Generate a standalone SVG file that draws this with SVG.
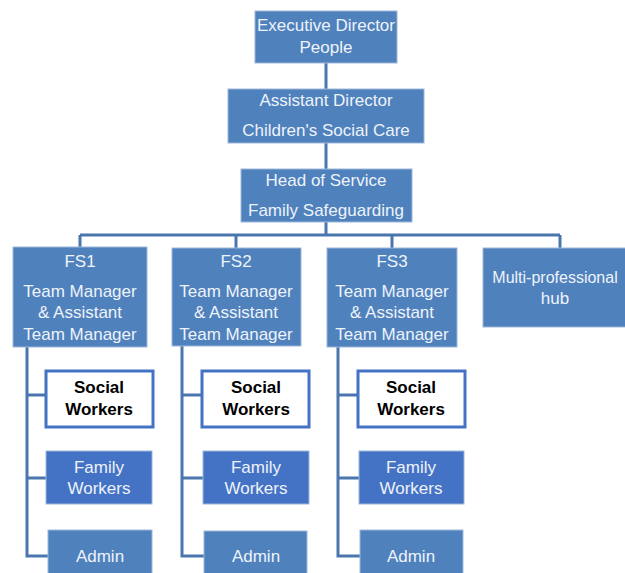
<svg xmlns="http://www.w3.org/2000/svg" width="625" height="573" viewBox="0 0 625 573">
<style>
.box{fill:#4F81BD;stroke:#9DB7DA;stroke-width:1}
.fam{fill:#4472C4;stroke:#9DB7DA;stroke-width:1}
.sw{fill:#FFFFFF;stroke:#4472C4;stroke-width:3}
.t{font-family:"Liberation Sans",Arial,sans-serif;font-size:17px;fill:#EEF3FA;text-anchor:middle}
.b{font-family:"Liberation Sans",Arial,sans-serif;font-size:17px;font-weight:bold;fill:#000000;text-anchor:middle}
.c{fill:none;stroke:#4A76AD;stroke-width:3}
</style>
<rect width="625" height="573" fill="#FFFFFF"/>
<g id="connectors">
<path class="c" d="M326,63V89M326,143V169M326,222V235M80,235H560M80,235V247M236,235V248M392,235V248M560,235V248"/>
<path class="c" d="M27,347V556H48M27,395H46M27,478H46"/>
<path class="c" d="M182,346V556H204M182,395H202M182,478H203"/>
<path class="c" d="M338,347V556H360M338,395H358M338,478H359"/>
</g>
<g id="exec"><rect class="box" x="255" y="11" width="142" height="52"/><text class="t" x="326" y="31">Executive Director</text><text class="t" x="326" y="53">People</text></g>
<g id="ad"><rect class="box" x="228" y="89" width="196" height="54"/><text class="t" x="326" y="106">Assistant Director</text><text class="t" x="326" y="136">Children's Social Care</text></g>
<g id="hos"><rect class="box" x="241" y="169" width="171" height="53"/><text class="t" x="326" y="186">Head of Service</text><text class="t" x="326" y="216">Family Safeguarding</text></g>
<g id="fs1"><rect class="box" x="13" y="247" width="134" height="100"/><text class="t" x="80" y="267">FS1</text><text class="t" x="80" y="297">Team Manager</text><text class="t" x="80" y="318">&amp; Assistant</text><text class="t" x="80" y="340">Team Manager</text></g>
<g id="fs2"><rect class="box" x="172" y="248" width="129" height="98"/><text class="t" x="236" y="267">FS2</text><text class="t" x="236" y="297">Team Manager</text><text class="t" x="236" y="318">&amp; Assistant</text><text class="t" x="236" y="340">Team Manager</text></g>
<g id="fs3"><rect class="box" x="327" y="248" width="130" height="99"/><text class="t" x="392" y="267">FS3</text><text class="t" x="392" y="297">Team Manager</text><text class="t" x="392" y="318">&amp; Assistant</text><text class="t" x="392" y="340">Team Manager</text></g>
<g id="hub"><rect class="box" x="483" y="248" width="160" height="79"/><text class="t" x="555" y="283" style="font-size:16px">Multi-professional</text><text class="t" x="555" y="304">hub</text></g>
<g id="sw1"><rect class="sw" x="46" y="371" width="107" height="56"/><text class="b" x="99" y="393">Social</text><text class="b" x="99" y="415">Workers</text></g>
<g id="sw2"><rect class="sw" x="202" y="371" width="107" height="56"/><text class="b" x="256" y="393">Social</text><text class="b" x="256" y="415">Workers</text></g>
<g id="sw3"><rect class="sw" x="358" y="371" width="107" height="56"/><text class="b" x="411" y="393">Social</text><text class="b" x="411" y="415">Workers</text></g>
<g id="fw1"><rect class="fam" x="46" y="451" width="106" height="53"/><text class="t" x="99" y="473">Family</text><text class="t" x="99" y="494">Workers</text></g>
<g id="fw2"><rect class="fam" x="203" y="451" width="106" height="53"/><text class="t" x="256" y="473">Family</text><text class="t" x="256" y="494">Workers</text></g>
<g id="fw3"><rect class="fam" x="359" y="451" width="105" height="53"/><text class="t" x="411" y="473">Family</text><text class="t" x="411" y="494">Workers</text></g>
<g id="ad1"><rect class="box" x="48" y="530" width="104" height="50"/><text class="t" x="100" y="562">Admin</text></g>
<g id="ad2"><rect class="box" x="204" y="531" width="103" height="50"/><text class="t" x="256" y="562">Admin</text></g>
<g id="ad3"><rect class="box" x="360" y="530" width="103" height="50"/><text class="t" x="411" y="562">Admin</text></g>
</svg>
